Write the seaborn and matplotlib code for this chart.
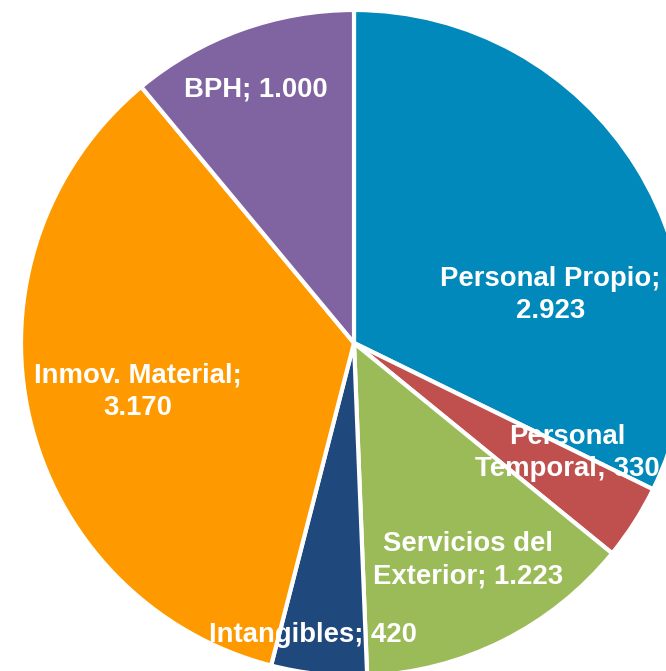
import matplotlib.pyplot as plt
import seaborn as sns

# datos
categorias = ["Personal Propio", "Personal\nTemporal", "Servicios del\nExterior",
              "Intangibles", "Inmov. Material", "BPH"]
valores = [2923, 330, 1223, 420, 3170, 1000]
etiquetas = ["Personal Propio;\n2.923", "Personal\nTemporal; 330", "Servicios del\nExterior; 1.223",
             "Intangibles; 420", "Inmov. Material;\n3.170", "BPH; 1.000"]
colores = ["#0089BA", "#C0504D", "#9BBB59", "#1F497D", "#FF9900", "#8064A2"]

# posiciones de las etiquetas (en radios del circulo)
pos_etiquetas = [(0.59, 0.145), (0.64, -0.33), (0.342, -0.652),
                 (-0.123, -0.877), (-0.649, -0.147), (-0.294, 0.76)]

sns.set_theme(style="white")
plt.rcParams['font.family'] = ['Liberation Sans', 'DejaVu Sans']

fig = plt.figure(figsize=(6.66, 6.71), dpi=100)
ax = fig.add_axes([21 / 666, -5 / 671, 666 / 666, 666 / 671])

ax.pie(valores, colors=colores, startangle=90, counterclock=False, radius=1,
       wedgeprops={"edgecolor": "white", "linewidth": 3})

for txt, (x, y) in zip(etiquetas, pos_etiquetas):
    ax.text(x, y, txt, ha="center", va="center", color="white",
            fontsize=19.8, fontweight="bold", linespacing=1.3)

ax.set_xlim(-1, 1)
ax.set_ylim(-1, 1)
ax.set_aspect("equal")
ax.axis("off")

fig.savefig("out.png", dpi=100)
